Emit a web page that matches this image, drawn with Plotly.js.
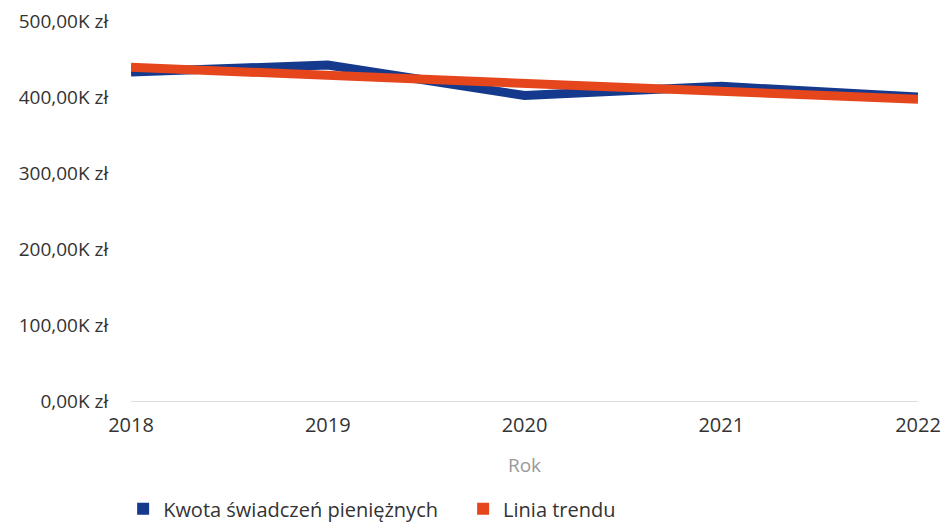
<!DOCTYPE html>
<html>
<head>
<meta charset="utf-8">
<script src="https://cdn.plot.ly/plotly-3.0.1.min.js"></script>
<style>html,body{margin:0;padding:0;background:#fff;}#chart{width:942px;height:524px;}</style>
</head>
<body>
<div id="chart"></div>
<script>
const years = [2018, 2019, 2020, 2021, 2022];
const kwota = [433000, 442000, 402000, 414000, 400000];
const trend = [439000, 428000, 418000, 407000, 397000];
const yTickVals = [0, 100000, 200000, 300000, 400000, 500000];
const yTickText = ["0,00K zł", "100,00K zł", "200,00K zł", "300,00K zł", "400,00K zł", "500,00K zł"];
const seriesNames = ["Kwota świadczeń pieniężnych", "Linia trendu"];
const colors = ["#15398c", "#e5461b"];

const traces = [
  {x: years, y: kwota, mode: "lines", line: {color: colors[0], width: 9}, showlegend: false, name: seriesNames[0], hoverinfo: "skip"},
  {x: years, y: trend, mode: "lines", line: {color: colors[1], width: 9}, showlegend: false, name: seriesNames[1], hoverinfo: "skip"},
  {x: [null], y: [null], mode: "markers", marker: {symbol: "square", size: 14, color: colors[0]}, name: seriesNames[0], legend: "legend"},
  {x: [null], y: [null], mode: "markers", marker: {symbol: "square", size: 14, color: colors[1]}, name: seriesNames[1], legend: "legend2"}
];

const legendBase = {orientation: "h", xanchor: "left", yref: "container", y: 0.029, yanchor: "middle",
  font: {size: 20, color: "#333"}, itemsizing: "constant", bgcolor: "rgba(0,0,0,0)"};

const layout = {
  width: 942, height: 524,
  margin: {l: 131, r: 24, t: 21, b: 123, autoexpand: false},
  paper_bgcolor: "#fff", plot_bgcolor: "#fff",
  font: {family: "Open Sans, DejaVu Sans, sans-serif", size: 19, color: "#333"},
  xaxis: {
    range: [2018, 2022], tickvals: years, ticktext: years.map(String),
    showgrid: false, zeroline: false, showline: false, automargin: false,
    ticks: "outside", ticklen: 6, tickcolor: "rgba(0,0,0,0)",
    tickfont: {size: 20, color: "#333"},
    title: {text: "Rok", font: {size: 19, color: "#999"}, standoff: 21}
  },
  yaxis: {
    range: [0, 500000], tickvals: yTickVals, ticktext: yTickText,
    showgrid: false, zeroline: true, zerolinecolor: "#ddd", zerolinewidth: 1,
    showline: false, automargin: false, ticks: "outside", ticklen: 18, tickcolor: "rgba(0,0,0,0)",
    tickfont: {size: 19, color: "#333"}
  },
  legend: Object.assign({}, legendBase, {x: -0.01}),
  legend2: Object.assign({}, legendBase, {x: 0.422}),
  showlegend: true
};

Plotly.newPlot("chart", traces, layout, {displayModeBar: false, staticPlot: true});
</script>
</body>
</html>
